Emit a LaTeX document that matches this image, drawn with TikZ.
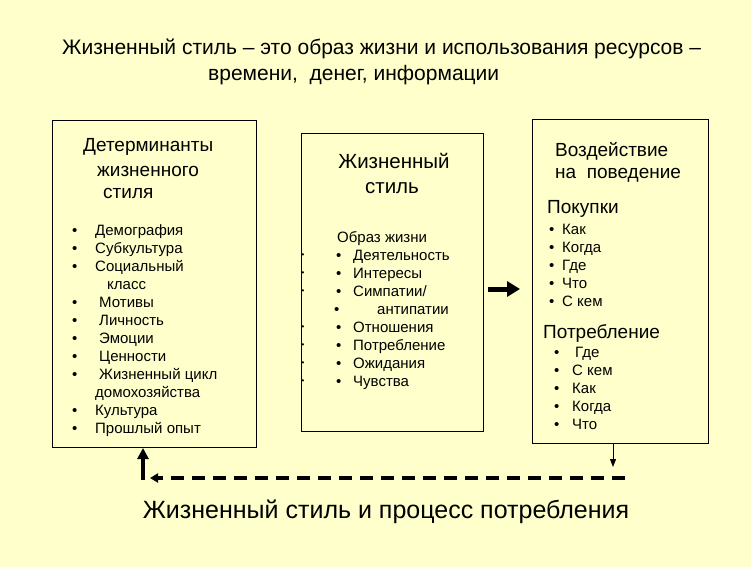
\documentclass[tikz,border=0pt]{standalone}
\usepackage{fontspec}
\setmainfont{Liberation Sans}
\usetikzlibrary{arrows.meta}
\definecolor{bg}{HTML}{FFFFCC}
\begin{document}
\begin{tikzpicture}[x=1pt,y=-1pt,
  txt/.style={inner sep=0pt, anchor=base west},
  head/.style={txt, font=\fontsize{19}{23}\selectfont},
  item/.style={txt, font=\fontsize{15}{18}\selectfont},
  tiny/.style={txt, font=\fontsize{8}{9}\selectfont},
  box/.style={draw=black, line width=1pt, fill=bg, anchor=north west, inner sep=0pt}]
\fill[bg] (0,0) rectangle (751,567);
\useasboundingbox (0,0) rectangle (751,567);

% title
\node[txt, font=\fontsize{21}{27}\selectfont] (t1) at (62,55) {Жизненный стиль – это образ жизни и использования ресурсов –};
\node[txt, font=\fontsize{21}{27}\selectfont] (t2) at (208,81) {времени,\ \ денег, информации};

% boxes
\node[box, minimum width=204pt, minimum height=327pt] (lbox) at (52,120) {};
\node[box, minimum width=182pt, minimum height=298pt] (mbox) at (301,133) {};
\node[box, minimum width=176pt, minimum height=324pt] (rbox) at (532,119) {};

% left box
\node[head] (lh1) at (83,151) {Детерминанты};
\node[head] (lh2) at (97,176) {жизненного};
\node[head] (lh3) at (103,198) {стиля};
\foreach \yy/\tx/\t [count=\i] in {235/95/Демография, 253/95/Субкультура, 271/95/Социальный, 307/99/Мотивы, 325/99/Личность, 343/99/Эмоции, 361/99/Ценности, 379/99/Жизненный цикл, 415/95/Культура, 433/95/Прошлый опыт}{
  \node[item] (lb\i) at (72,\yy) {•};
  \node[item] (lt\i) at (\tx,\yy) {\t};
}
\node[item] (lx1) at (107,289) {класс};
\node[item] (lx2) at (95,397) {домохозяйства};

% middle box
\node[txt, anchor=base, font=\fontsize{20.5}{25}\selectfont] (mh1) at (394,168) {Жизненный};
\node[txt, anchor=base, font=\fontsize{20.5}{25}\selectfont] (mh2) at (392,193) {стиль};
\node[item] (mo) at (337,242) {Образ жизни};
\foreach \yy/\t [count=\i] in {260/{Деятельность}, 278/{Интересы}, 296/{Симпатии/}, 332/{Отношения}, 350/{Потребление}, 368/{Ожидания}, 386/{Чувства}}{
  \node[tiny] (md\i) at (301.5,\yy-3) {•};
  \node[item] (mb\i) at (336,\yy) {•};
  \node[item] (mt\i) at (353,\yy) {\t};
}
\node[item] (mb8) at (334,314) {•};
\node[item] (mt8) at (377,314) {антипатии};

% right box
\node[head] (rh1) at (555,156) {Воздействие};
\node[head] (rh2) at (555,178) {на\ \ поведение};
\node[head] (rp) at (547,213) {Покупки};
\foreach \yy/\t [count=\i] in {234/Как, 252/Когда, 270/Где, 288/Что, 306/С кем}{
  \node[item] (rb\i) at (549,\yy) {•};
  \node[item] (rt\i) at (562,\yy) {\t};
}
\node[head] (rc) at (543,338) {Потребление};
\foreach \yy/\tx/\t [count=\i] in {357/575/Где, 375/572/С кем, 393/572/Как, 411/572/Когда, 429/572/Что}{
  \node[item] (cb\i) at (554,\yy) {•};
  \node[item] (ct\i) at (\tx,\yy) {\t};
}

% arrows
\coordinate (a1) at (488,289);
\coordinate (a2) at (520,289);
\draw[line width=5pt, -{Triangle[length=13pt,width=15pt]}] (a1) -- (a2);

\coordinate (d1) at (rbox.south -| 613,0);
\coordinate (d2) at (613,467);
\draw[line width=1pt, -{Triangle[length=8pt,width=6pt]}] (d1) -- (d2);

\coordinate (h1) at (625,478);
\coordinate (h2) at (150,478);
\draw[line width=4pt, dash pattern=on 13pt off 8pt, -{Triangle[length=8pt,width=9pt]}] (h1) -- (h2);

\coordinate (u1) at (143,480);
\draw[line width=3.5pt, -{Triangle[length=11pt,width=11pt]}] (u1) -- (lbox.south -| u1);

% bottom caption
\node[txt, anchor=base, font=\fontsize{25}{30}\selectfont] (cap) at (386,518) {Жизненный стиль и процесс потребления};
\end{tikzpicture}
\end{document}
